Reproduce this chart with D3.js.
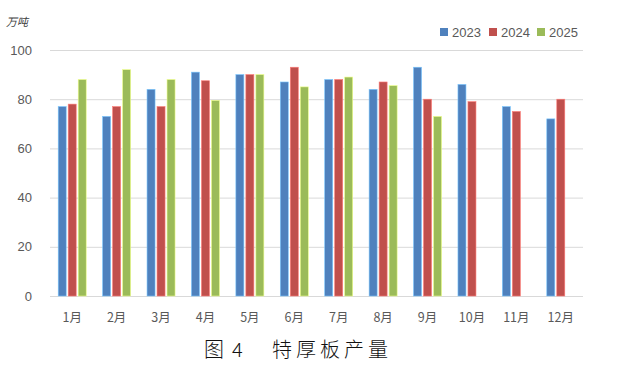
<!DOCTYPE html>
<html><head><meta charset="utf-8">
<script src="https://cdn.jsdelivr.net/npm/d3@7"></script>
<style>body{margin:0;background:#fff}svg{display:block}</style>
</head><body>
<svg id="c" width="619" height="379"></svg>
<script>
const categories = ["1月","2月","3月","4月","5月","6月","7月","8月","9月","10月","11月","12月"];
const seriesNames = ["2023","2024","2025"];
const s2023 = [77,73,84,91,90,87,88,84,93,86,77,72];
const s2024 = [78,77,77,87.5,90,93,88,87,80,79,75,80];
const s2025 = [88,92,88,79.5,90,85,89,85.5,73,null,null,null];
const yTicks = [0,20,40,60,80,100];
const colors = ["#4F81BD","#C0504D","#9BBB59"];
const series = [s2023,s2024,s2025];

const svg = d3.select("#c");
const x = d3.scaleBand().domain(categories).range([50,583]).padding(0);
const y = d3.scaleLinear().domain([0,100]).range([296,50]);
const xs = d3.scaleBand().domain(seriesNames).range([0,30]).padding(0);

svg.append("g").selectAll("line").data(yTicks).join("line")
  .attr("x1",50).attr("x2",583)
  .attr("y1",d=>y(d)+0.5).attr("y2",d=>y(d)+0.5)
  .attr("stroke","#d9d9d9").attr("stroke-width",1);

svg.append("g").selectAll("text").data(yTicks).join("text")
  .attr("x",32).attr("y",d=>y(d)).attr("dy","0.35em")
  .attr("text-anchor","end").attr("font-family","Liberation Sans, Arial, sans-serif")
  .attr("font-size",13).attr("fill","#595959").text(d=>d);

const bw = 8;
series.forEach((vals,si)=>{
  svg.append("g").selectAll("rect").data(vals.map((v,i)=>({v,c:categories[i]})).filter(d=>d.v!=null))
    .join("rect")
    .attr("x",d=>x(d.c)+x.bandwidth()/2-15+xs(seriesNames[si])+1)
    .attr("width",bw)
    .attr("y",d=>y(d.v)).attr("height",d=>y(0)-y(d.v))
    .attr("fill",colors[si])
    .attr("stroke",d3.color(colors[si]).brighter(1.2))
    .attr("stroke-width",0.6);
});

svg.append("g").selectAll("text").data(categories).join("text")
  .attr("x",d=>x(d)+x.bandwidth()/2).attr("y",318).attr("dy","0.35em")
  .attr("text-anchor","middle").attr("font-family","Noto Sans CJK SC, sans-serif")
  .attr("font-size",12.5).attr("fill","#595959").text(d=>d);

svg.append("text").attr("x",6).attr("y",26)
  .attr("font-family","Noto Sans CJK SC, sans-serif").attr("font-size",11)
  .attr("font-style","italic").attr("fill","#404040").text("万吨");

const lg = svg.append("g");
const lx = [440,489,537];
seriesNames.forEach((n,i)=>{
  lg.append("rect").attr("x",lx[i]).attr("y",28).attr("width",8).attr("height",8).attr("fill",colors[i]);
  lg.append("text").attr("x",lx[i]+12).attr("y",32).attr("dy","0.35em")
    .attr("font-family","Liberation Sans, Arial, sans-serif").attr("font-size",13)
    .attr("fill","#595959").text(n);
});

const cap = {family:"Noto Sans CJK SC, serif", size:20};
svg.append("text").attr("x",204).attr("y",357)
  .attr("font-family",cap.family).attr("font-size",cap.size).attr("font-weight",300)
  .attr("fill","#111").text("图");
svg.append("text").attr("x",232).attr("y",357)
  .attr("font-family",cap.family).attr("font-size",cap.size).attr("font-weight",300)
  .attr("fill","#111").text("4");
svg.append("text").attr("x",272).attr("y",357)
  .attr("font-family",cap.family).attr("font-size",cap.size).attr("font-weight",300)
  .attr("letter-spacing",4).attr("fill","#111").text("特厚板产量");
</script>
</body></html>
